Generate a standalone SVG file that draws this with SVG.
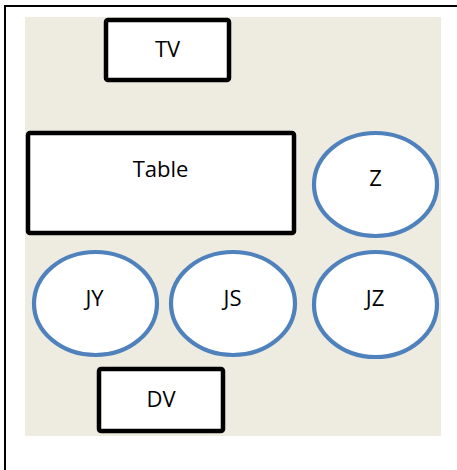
<svg xmlns="http://www.w3.org/2000/svg" width="457" height="470" viewBox="0 0 457 470">
  <style>
    .box { fill: #ffffff; stroke: #000000; stroke-width: 4.5; }
    .seat { fill: #ffffff; stroke: #4f81bd; stroke-width: 4.2; }
    .lbl { font-family: "Open Sans", "Liberation Sans", sans-serif; font-size: 22px; fill: #000000; text-anchor: middle; }
  </style>
  <rect x="0" y="0" width="457" height="470" fill="#ffffff"/>
  <path d="M5,470 V6 H457" fill="none" stroke="#000000" stroke-width="2"/>
  <rect x="25" y="17" width="416" height="419" fill="#eeece1"/>
  <g id="connectors"></g>
  <g id="tv">
    <rect class="box" x="106" y="20" width="123" height="60" rx="2"/>
    <text class="lbl" x="167.5" y="57">TV</text>
  </g>
  <g id="table">
    <rect class="box" x="28" y="133" width="266" height="100" rx="2"/>
    <text class="lbl" x="160.5" y="177">Table</text>
  </g>
  <g id="z">
    <ellipse class="seat" cx="375.5" cy="184.5" rx="61.5" ry="51.5"/>
    <text class="lbl" x="375.5" y="186">Z</text>
  </g>
  <g id="jy">
    <ellipse class="seat" cx="95.5" cy="303.5" rx="61.5" ry="51.5"/>
    <text class="lbl" x="94.5" y="306">JY</text>
  </g>
  <g id="js">
    <ellipse class="seat" cx="233" cy="303.5" rx="62" ry="51.5"/>
    <text class="lbl" x="232.5" y="306">JS</text>
  </g>
  <g id="jz">
    <ellipse class="seat" cx="375.5" cy="304.5" rx="61.5" ry="52.5"/>
    <text class="lbl" x="375" y="306">JZ</text>
  </g>
  <g id="dv">
    <rect class="box" x="99" y="369" width="124" height="62" rx="2"/>
    <text class="lbl" x="161" y="407">DV</text>
  </g>
</svg>
